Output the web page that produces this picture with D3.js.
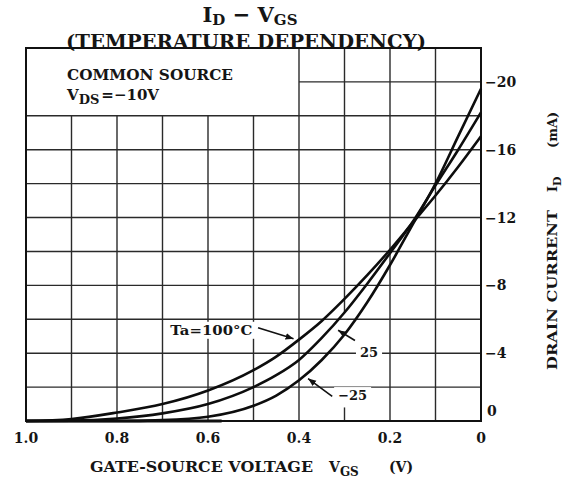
<!DOCTYPE html>
<html>
<head>
<meta charset="utf-8">
<script src="https://cdn.jsdelivr.net/npm/d3@7"></script>
<style>
  body { margin: 0; background: #fff; }
  text { font-family: "DejaVu Serif", serif; font-weight: bold; fill: #151515; }
</style>
</head>
<body>
<div id="chart"></div>
<script>
// values
var vgs = [1.0, 0.9, 0.8, 0.7, 0.6, 0.5, 0.45, 0.4, 0.35, 0.3, 0.25, 0.2, 0.15, 0.1, 0.05, 0];
var idTa100 = [0, 0.12, 0.5, 1.0, 1.8, 3.0, 3.8, 4.8, 5.9, 7.2, 8.6, 10.1, 11.7, 13.3, 15.0, 16.8];
var idTa25  = [0, 0.02, 0.15, 0.45, 1.0, 2.0, 2.7, 3.6, 4.9, 6.4, 8.1, 9.9, 11.75, 13.9, 16.0, 18.2];
var idTaM25 = [0, 0, 0, 0.05, 0.25, 0.9, 1.5, 2.4, 3.6, 5.1, 7.0, 9.2, 11.6, 14.0, 16.8, 19.6];

var xTicks = [1.0, 0.8, 0.6, 0.4, 0.2, 0];
var xTickLabels = ["1.0", "0.8", "0.6", "0.4", "0.2", "0"];
var yTicks = [20, 16, 12, 8, 4, 0];
var yTickLabels = ["\u221220", "\u221216", "\u221212", "\u22128", "\u22124", "0"];
var xGrid = [0.9, 0.8, 0.7, 0.6, 0.5, 0.4, 0.3, 0.2, 0.1];
var yGrid = [2, 4, 6, 8, 10, 12, 14, 16, 18, 20];

var curveLabels = ["Ta=100\u00b0C", "25", "\u221225"];
var curveLabelAt = [[0.683, 5.35], [0.266, 4.05], [0.314, 1.5]];
var leaderFrom = [[0.49, 5.5], [0.277, 4.75], [0.327, 1.45]];
var leaderTo = [[0.412, 4.85], [0.314, 5.35], [0.38, 2.5]];

// set the dimensions and margins of the graph
var margin = {top: 48, right: 89, bottom: 64, left: 26},
    width = 570 - margin.left - margin.right,
    height = 485 - margin.top - margin.bottom;

var root = d3.select("#chart")
    .append("svg")
    .attr("width", 570)
    .attr("height", 485);

var svg = root.append("g")
    .attr("transform", "translate(" + margin.left + "," + margin.top + ")");

var x = d3.scaleLinear().domain([1.0, 0]).range([0, width]);
var y = d3.scaleLinear().domain([0, 22]).range([height, 0]);

var gridColor = "#2a2a2a";

// vertical grid (the 0.3 line is broken behind the labels)
xGrid.forEach(function(v) {
    var top = v > 0.45 ? 18 : 22;
    var segs = Math.abs(v - 0.3) < 1e-6 ? [[0, 0.8], [6.4, top]] : [[0, top]];
    segs.forEach(function(s) {
        svg.append("line")
            .attr("x1", x(v)).attr("x2", x(v))
            .attr("y1", y(s[0])).attr("y2", y(s[1]))
            .attr("stroke", gridColor).attr("stroke-width", 1.4);
    });
});

// horizontal grid (legend box keeps the top left free)
yGrid.forEach(function(v) {
    svg.append("line")
        .attr("x1", x(v > 19 ? 0.4 : 1.0)).attr("x2", x(0))
        .attr("y1", y(v)).attr("y2", y(v))
        .attr("stroke", gridColor).attr("stroke-width", 1.4);
});

// frame
svg.append("rect")
    .attr("x", 0).attr("y", 0)
    .attr("width", width).attr("height", height)
    .attr("fill", "none")
    .attr("stroke", "#111")
    .attr("stroke-width", 2);
svg.append("line")
    .attr("x1", 0).attr("x2", x(0.57))
    .attr("y1", height).attr("y2", height)
    .attr("stroke", "#111").attr("stroke-width", 3.2);

// curves
var line = d3.line()
    .x(function(d) { return x(d[0]); })
    .y(function(d) { return y(d[1]); })
    .curve(d3.curveMonotoneX);

[idTa100, idTa25, idTaM25].forEach(function(series) {
    svg.append("path")
        .datum(vgs.map(function(v, i) { return [v, series[i]]; }))
        .attr("fill", "none")
        .attr("stroke", "#0d0d0d")
        .attr("stroke-width", 2.6)
        .attr("d", line);
});

// curve labels with leaders
svg.append("defs").append("marker")
    .attr("id", "arr")
    .attr("viewBox", "0 0 10 10")
    .attr("refX", 10).attr("refY", 5)
    .attr("markerWidth", 8).attr("markerHeight", 8)
    .attr("markerUnits", "userSpaceOnUse")
    .attr("orient", "auto")
    .append("path")
    .attr("d", "M0,1 L10,5 L0,9 Z")
    .attr("fill", "#111");

curveLabels.forEach(function(t, i) {
    var g = svg.append("g");
    var bg = g.append("rect").attr("fill", "#fff");
    var txt = g.append("text")
        .attr("x", x(curveLabelAt[i][0]))
        .attr("y", y(curveLabelAt[i][1]))
        .attr("dominant-baseline", "central")
        .style("font-size", "13px")
        .text(t);
    if (i === 0) txt.attr("textLength", 82).attr("lengthAdjust", "spacingAndGlyphs");
    var b = txt.node().getBBox();
    bg.attr("x", b.x - 4).attr("y", b.y - 1)
      .attr("width", b.width + 8).attr("height", b.height + 2);
    svg.append("line")
        .attr("x1", x(leaderFrom[i][0])).attr("y1", y(leaderFrom[i][1]))
        .attr("x2", x(leaderTo[i][0])).attr("y2", y(leaderTo[i][1]))
        .attr("stroke", "#111").attr("stroke-width", 1.6)
        .attr("marker-end", "url(#arr)");
});

// legend text in the box
svg.append("text")
    .attr("x", 41).attr("y", 32)
    .style("font-size", "14px")
    .attr("textLength", 166).attr("lengthAdjust", "spacingAndGlyphs")
    .text("COMMON SOURCE");
var vds = svg.append("text").attr("x", 41).attr("y", 52).style("font-size", "15px");
vds.append("tspan").text("V");
vds.append("tspan").attr("dy", 4).style("font-size", "13px").text("DS");
vds.append("tspan").attr("dy", -4).attr("dx", 2).text("=\u221210V");

// x tick labels
svg.selectAll(".xt")
    .data(xTicks)
    .enter().append("text")
    .attr("x", function(d) { return x(d); })
    .attr("y", height + 22)
    .attr("text-anchor", "middle")
    .style("font-size", "14px")
    .text(function(d, i) { return xTickLabels[i]; });

// y tick labels on the right
svg.selectAll(".yt")
    .data(yTicks)
    .enter().append("text")
    .attr("x", function(d) { return d === 0 ? width + 6 : width + 4; })
    .attr("y", function(d) { return d === 0 ? y(0.6) : y(d); })
    .attr("dominant-baseline", "central")
    .style("font-size", "14px")
    .text(function(d, i) { return yTickLabels[i]; });

// x axis title
var xt = svg.append("text")
    .attr("x", 64).attr("y", height + 51)
    .style("font-size", "14px");
xt.append("tspan").attr("textLength", 223).attr("lengthAdjust", "spacingAndGlyphs")
    .text("GATE-SOURCE VOLTAGE");
xt.append("tspan").attr("x", 303).text("V");
xt.append("tspan").attr("dy", 4).style("font-size", "12px").text("GS");
xt.append("tspan").attr("x", 363).attr("dy", -4).text("(V)");

// y axis title (rotated, on the right)
var yt = root.append("text")
    .attr("transform", "translate(557,370) rotate(-90)")
    .style("font-size", "13px");
yt.append("tspan").attr("x", 0).attr("textLength", 160).attr("lengthAdjust", "spacingAndGlyphs")
    .text("DRAIN CURRENT");
yt.append("tspan").attr("x", 178).text("I");
yt.append("tspan").attr("dy", 4).style("font-size", "11px").text("D");
yt.append("tspan").attr("x", 222).attr("dy", -4).text("(mA)");

// title
var t1 = root.append("text")
    .attr("x", 250).attr("y", 22)
    .attr("text-anchor", "middle")
    .style("font-size", "21px");
t1.append("tspan").text("I");
t1.append("tspan").attr("dy", 3).style("font-size", "15px").text("D");
t1.append("tspan").attr("dy", -3).text(" \u2212 V");
t1.append("tspan").attr("dy", 3).style("font-size", "15px").text("GS");

root.append("text")
    .attr("x", 66).attr("y", 48)
    .attr("textLength", 360).attr("lengthAdjust", "spacingAndGlyphs")
    .style("font-size", "18px")
    .text("(TEMPERATURE DEPENDENCY)");
</script>
</body>
</html>
